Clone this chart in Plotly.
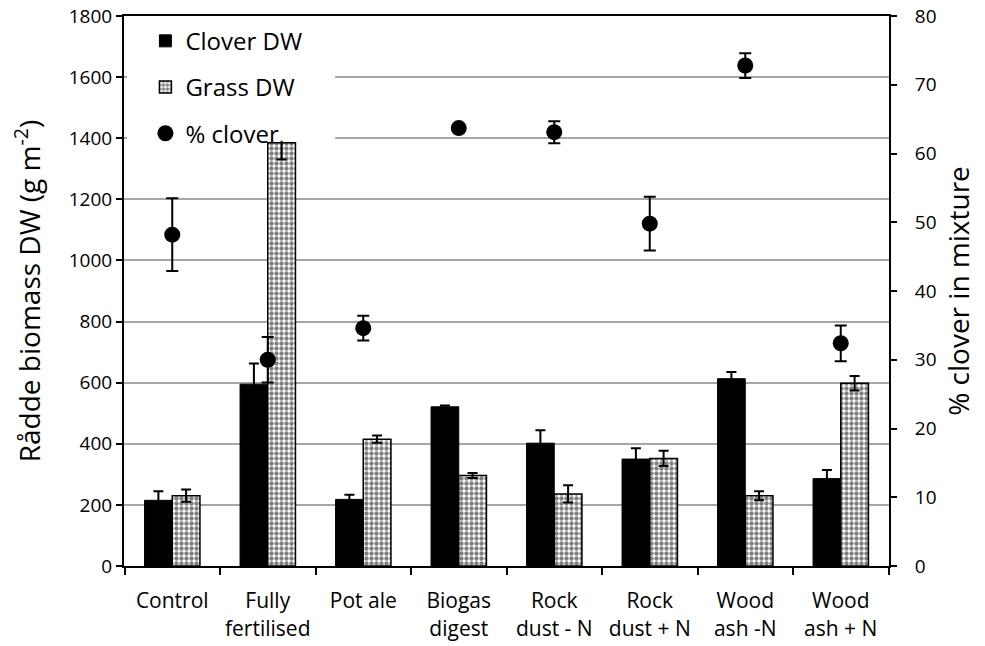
import plotly.graph_objects as go

# Treatments (x categories)
categories = ["Control", "Fully<br>fertilised", "Pot ale", "Biogas<br>digest",
              "Rock<br>dust - N", "Rock<br>dust + N", "Wood<br>ash -N", "Wood<br>ash + N"]

# Dry weight, g m-2, with error
clover_dw = [215, 595, 218, 521, 402, 350, 613, 286]
clover_err = [30, 68, 15, 4, 42, 35, 22, 28]
grass_dw = [230, 1385, 415, 296, 236, 352, 230, 598]
grass_err = [20, 55, 12, 8, 28, 25, 15, 24]

# Clover share of the mixture, %
pct_clover = [48.2, 30.0, 34.6, 63.7, 63.1, 49.8, 72.8, 32.4]
pct_err = [5.3, 3.3, 1.8, 0.4, 1.6, 3.9, 1.8, 2.6]

left_ticks = list(range(0, 1801, 200))
right_ticks = list(range(0, 81, 10))

FONT = "Open Sans"

fig = go.Figure()

fig.add_trace(go.Bar(
    x=categories, y=clover_dw, name="Clover DW", legendgroup="a",
    marker=dict(color="black", line=dict(color="black", width=1)),
    error_y=dict(type="data", array=clover_err, color="black", thickness=2, width=5),
))
fig.add_trace(go.Bar(
    x=categories, y=grass_dw, name="Grass DW", legendgroup="b",
    marker=dict(color="white", line=dict(color="black", width=1.5),
                pattern=dict(shape=".", size=5, solidity=0.6, fgcolor="black",
                             bgcolor="white", fillmode="overlay")),
    error_y=dict(type="data", array=grass_err, color="black", thickness=2, width=5),
))
fig.add_trace(go.Scatter(
    x=categories, y=pct_clover, name="% clover", legendgroup="c", yaxis="y2",
    mode="markers", marker=dict(color="black", size=16, symbol="circle"),
    error_y=dict(type="data", array=pct_err, color="black", thickness=2, width=6),
))

# white backing behind the legend box
fig.add_shape(type="rect", xref="x domain", yref="y domain",
              x0=0.004, x1=0.276, y0=0.773, y1=0.996,
              fillcolor="white", line=dict(width=0), layer="above")

fig.update_layout(
    width=985, height=646,
    margin=dict(l=124, r=96, t=16, b=80),
    paper_bgcolor="white", plot_bgcolor="white",
    font=dict(family=FONT, size=20, color="black"),
    barmode="group", bargap=0.42, bargroupgap=0,
    showlegend=True,
    legend=dict(x=0.028, y=0.995, xanchor="left", yanchor="top",
                bgcolor="rgba(0,0,0,0)", font=dict(size=24, family=FONT),
                tracegroupgap=12, itemsizing="trace"),
    xaxis=dict(
        type="category", tickson="boundaries", ticks="outside", ticklen=7,
        tickwidth=2, tickcolor="black", showline=True, linecolor="black",
        linewidth=2, mirror=True, showgrid=False, automargin=False,
        tickangle=0, ticklabelstandoff=15,
        tickfont=dict(size=21, family=FONT),
    ),
    yaxis=dict(
        range=[0, 1800], tickvals=left_ticks, ticks="outside", ticklen=6,
        tickwidth=2, tickcolor="black", showline=True, linecolor="black",
        linewidth=2, showgrid=True, gridcolor="#a6a6a6", gridwidth=1.5,
        zeroline=False, automargin=False, tickfont=dict(size=19, family=FONT),
        title=dict(text="Rådde biomass DW (g m<sup>-2</sup>)",
                   font=dict(size=28, family=FONT), standoff=20),
    ),
    yaxis2=dict(
        range=[0, 80], tickvals=right_ticks, overlaying="y", side="right",
        ticks="outside", ticklen=6, tickwidth=2, tickcolor="black",
        showline=True, linecolor="black", linewidth=2, showgrid=False,
        zeroline=False, automargin=False, ticklabelstandoff=14,
        tickfont=dict(size=19, family=FONT),
        title=dict(text="% clover in mixture",
                   font=dict(size=28, family=FONT), standoff=14),
    ),
)

fig.write_html("out.html")
